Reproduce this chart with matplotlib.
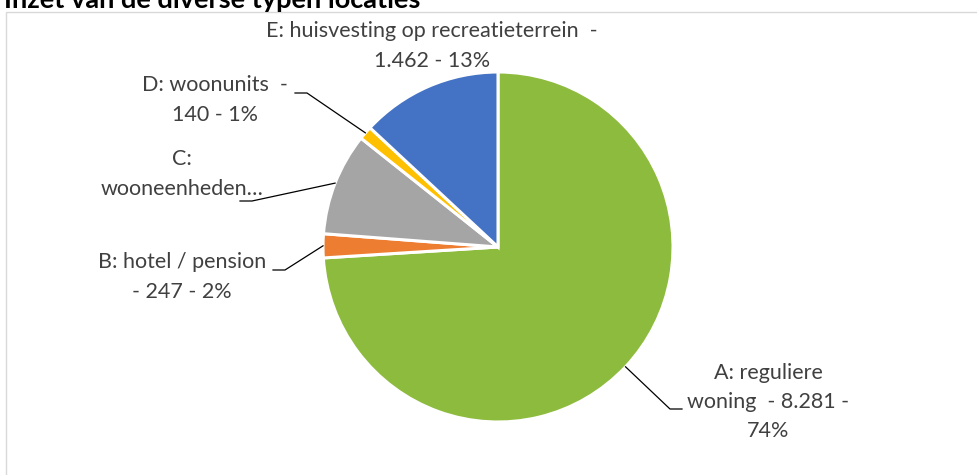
import matplotlib
matplotlib.use('Agg')
import matplotlib.pyplot as plt
import numpy as np

# ---- data ----
categories = ['A: reguliere woning', 'B: hotel / pension', 'C: wooneenheden',
              'D: woonunits', 'E: huisvesting op recreatieterrein']
values = [8281, 247, 1060, 140, 1462]
value_labels = ['8.281', '247', '1.060', '140', '1.462']
percent_labels = ['74%', '2%', '9%', '1%', '13%']
display_labels = [
    'A: reguliere\nwoning  - 8.281 -\n74%',
    'B: hotel / pension\n- 247 - 2%',
    'C:\nwooneenheden…',
    'D: woonunits  -\n140 - 1%',
    'E: huisvesting op recreatieterrein  -\n1.462 - 13%',
]
colors = ['#8DBB3D', '#ED7D31', '#A5A5A5', '#FFC000', '#4472C4']
title = 'Inzet van de diverse typen locaties'

# ---- layout (pixels, y from top) ----
W, H = 977, 475
cx, cy, R = 498, 247, 175
# label block centre, elbow point, horizontal end (None = no leader)
label_pos = [(768, 402), (182, 277), (182, 174), (215, 100), (432, 46)]
elbows = [(670, 409), (285, 270), (252, 201), (307, 93), None]
ends = [(682, 409), (273, 270), (240, 201), (295, 93), None]

plt.rcParams['font.family'] = ['Lato', 'DejaVu Sans']
fig = plt.figure(figsize=(W / 100, H / 100), dpi=100)
ax = fig.add_axes([0, 0, 1, 1])

def Y(y):
    return H - y

# chart border
ax.plot([6, 6, W + 5], [Y(H + 5), Y(12), Y(12)], color='#D9D9D9', lw=1.0)

wedges, _ = ax.pie(values, colors=colors, startangle=90, counterclock=False,
                   center=(cx, Y(cy)), radius=R, frame=True,
                   wedgeprops=dict(edgecolor='white', linewidth=2.2))
ax.set_xlim(0, W)
ax.set_ylim(0, H)
ax.set_aspect('equal')
ax.axis('off')

txtcol = '#404040'
for i, w in enumerate(wedges):
    lx, ly = label_pos[i]
    ax.text(lx, Y(ly), display_labels[i], ha='center', va='center',
            fontsize=15.5, color=txtcol, linespacing=1.58)
    if elbows[i] is not None:
        mid = np.deg2rad((w.theta1 + w.theta2) / 2)
        sx = cx + R * np.cos(mid)
        sy = Y(cy) + R * np.sin(mid)
        ex, ey = elbows[i]
        hx, hy = ends[i]
        ax.plot([sx, ex, hx], [sy, Y(ey), Y(hy)], color='black', lw=0.9)

fig.text(4 / W, 1 - 8 / H, title, ha='left', va='baseline', fontsize=19.5,
         fontweight='bold', color='black')

fig.savefig('out.png', dpi=100, facecolor='white')
